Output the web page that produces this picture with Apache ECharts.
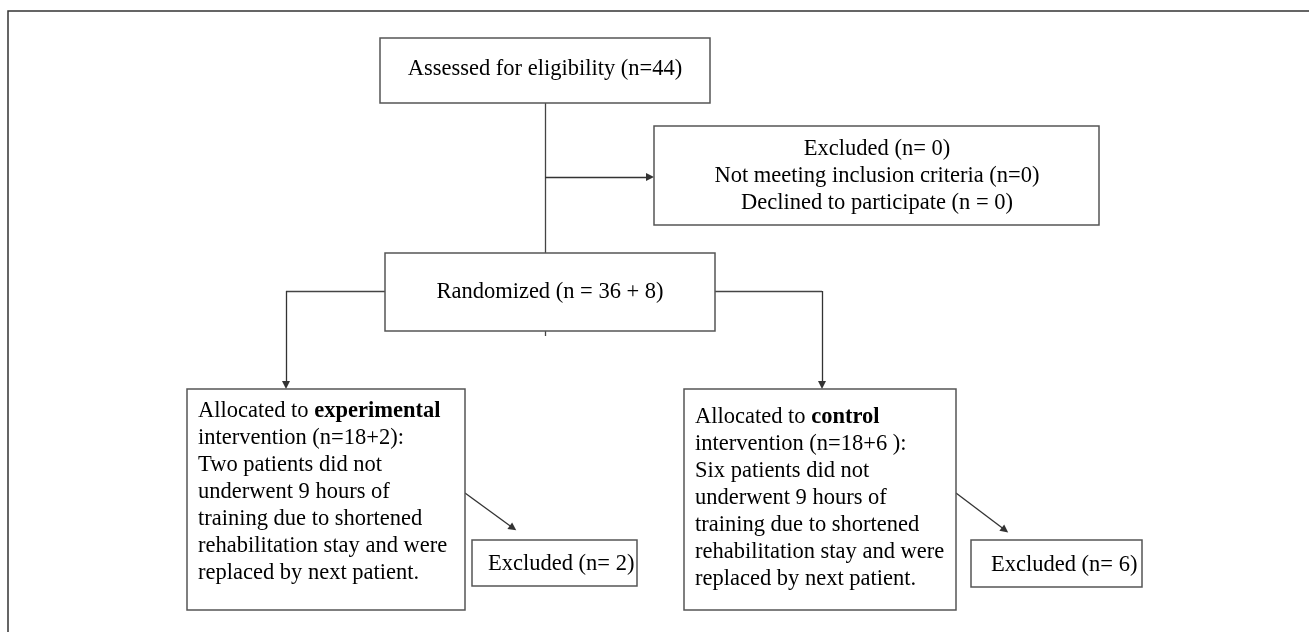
<!DOCTYPE html>
<html>
<head>
<meta charset="utf-8">
<script src="https://cdn.jsdelivr.net/npm/echarts@6/dist/echarts.min.js"></script>
<style>
html,body{margin:0;padding:0;background:#fff}
#main{width:1309px;height:632px}
</style>
</head>
<body>
<div id="main"></div>
<script>
// flow boxes (diagram units = pixels of the original figure)
var boxNames  = ['assess', 'excluded', 'random', 'expAlloc', 'expExcl', 'ctlAlloc', 'ctlExcl'];
var boxLeft   = [380, 654, 385, 187, 472, 684, 971];
var boxRight  = [710, 1099, 715, 465, 637, 956, 1142];
var boxTop    = [38, 126, 253, 389, 540, 389, 540];
var boxBottom = [103, 225, 331, 610, 586, 610, 587];

var boxText = [
    ['Assessed for eligibility (n=44)'],
    ['Excluded (n= 0)', 'Not meeting inclusion criteria (n=0)', 'Declined to participate (n = 0)'],
    ['Randomized (n = 36 + 8)'],
    ['Allocated to {b|experimental}', 'intervention (n=18+2):', 'Two patients did not',
     'underwent 9 hours of', 'training due to shortened', 'rehabilitation stay and were',
     'replaced by next patient.'],
    ['Excluded (n= 2)'],
    ['Allocated to {b|control}', 'intervention (n=18+6 ):', 'Six patients did not',
     'underwent 9 hours of', 'training due to shortened', 'rehabilitation stay and were',
     'replaced by next patient.'],
    ['Excluded (n= 6)']
];
var textAlign = ['center', 'center', 'center', 'left', 'left', 'left', 'left'];
var textX     = [545, 877, 550, 198, 488, 695, 991];
var textY     = [69, 149, 292, 411, 564, 417, 565];
var lineGap   = [27, 27, 27, 27, 27, 27, 27];

// connectors: plain segments and segments ending in an arrow head
var plainSegs = [
    [[545, 103], [545, 253]],
    [[545, 331], [545, 336]],
    [[385, 291], [286, 291]],
    [[715, 291], [822, 291]]
];
var arrowSegs = [
    [[545, 177], [650, 177]],
    [[286, 291], [286, 385]],
    [[822, 291], [822, 385]],
    [[465, 493], [513, 528]],
    [[956, 493], [1005, 530]]
];
var framePath = [[8, 632], [8, 11], [1309, 11]];

var myChart = echarts.init(document.getElementById('main'));

function renderBox(params, api) {
    var i = params.dataIndex;
    var p0 = api.coord([boxLeft[i], boxTop[i]]);
    var p1 = api.coord([boxRight[i], boxBottom[i]]);
    var children = [{
        type: 'rect',
        shape: {x: p0[0], y: p0[1], width: p1[0] - p0[0], height: p1[1] - p0[1]},
        style: {fill: '#fff', stroke: '#555', lineWidth: 1.5}
    }];
    boxText[i].forEach(function (t, k) {
        var p = api.coord([textX[i], textY[i] + k * lineGap[i]]);
        children.push({
            type: 'text',
            style: {
                text: t,
                x: p[0],
                y: p[1],
                textAlign: textAlign[i],
                textVerticalAlign: 'middle',
                fill: '#000',
                fontSize: 22.5,
                fontFamily: 'Liberation Serif',
                rich: {
                    b: {fontWeight: 'bold', fontSize: 22.5, fontFamily: 'Liberation Serif', fill: '#000'}
                }
            }
        });
    });
    return {type: 'group', children: children};
}

option = {
    animation: false,
    backgroundColor: '#fff',
    grid: {left: 0, right: 0, top: 0, bottom: 0},
    xAxis: {type: 'value', min: 0, max: 1309, show: false},
    yAxis: {type: 'value', min: 0, max: 632, inverse: true, show: false},
    series: [
        {
            type: 'lines',
            coordinateSystem: 'cartesian2d',
            polyline: true,
            symbol: 'none',
            lineStyle: {color: '#333', width: 1.5, opacity: 1},
            data: [{coords: framePath}],
            silent: true
        },
        {
            type: 'lines',
            coordinateSystem: 'cartesian2d',
            symbol: 'none',
            lineStyle: {color: '#444', width: 1.3, opacity: 1},
            data: plainSegs.map(function (c) { return {coords: c}; }),
            silent: true
        },
        {
            type: 'lines',
            coordinateSystem: 'cartesian2d',
            symbol: ['none', 'triangle'],
            symbolSize: 8,
            lineStyle: {color: '#333', width: 1.3, opacity: 1},
            itemStyle: {color: '#111'},
            data: arrowSegs.map(function (c) { return {coords: c}; }),
            silent: true
        },
        {
            type: 'custom',
            renderItem: renderBox,
            clip: false,
            silent: true,
            encode: {x: 0, y: 1},
            data: boxNames.map(function (n, i) { return [boxLeft[i], boxTop[i]]; })
        }
    ]
};

myChart.setOption(option);
</script>
</body>
</html>
